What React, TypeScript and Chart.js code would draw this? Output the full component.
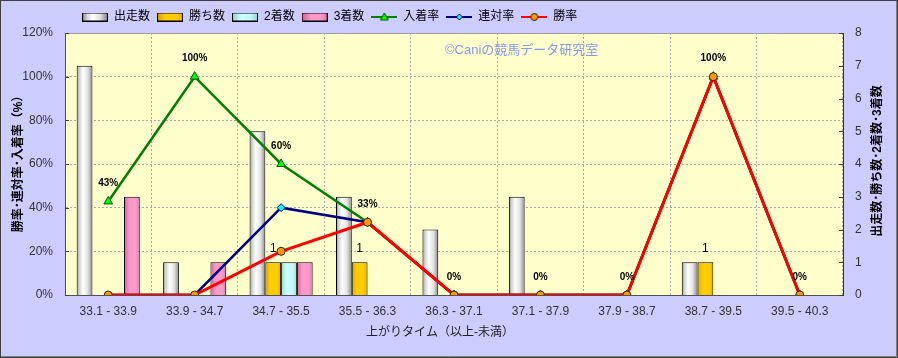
import React, { useEffect, useRef } from "react";
import { Chart, registerables } from "chart.js";

Chart.register(...registerables);

// ---- data ----
const categories = [
  "33.1 - 33.9",
  "33.9 - 34.7",
  "34.7 - 35.5",
  "35.5 - 36.3",
  "36.3 - 37.1",
  "37.1 - 37.9",
  "37.9 - 38.7",
  "38.7 - 39.5",
  "39.5 - 40.3",
];
const runs = [7, 1, 5, 3, 2, 3, 0, 1, 0];
const wins = [0, 0, 1, 1, 0, 0, 0, 1, 0];
const seconds = [0, 0, 1, 0, 0, 0, 0, 0, 0];
const thirds = [3, 1, 1, 0, 0, 0, 0, 0, 0];
const placeRate = [42.86, 100, 60, 33.33, 0, 0, 0, 100, 0];
const quinellaRate = [0, 0, 40, 33.33, 0, 0, 0, 100, 0];
const winRate = [0, 0, 20, 33.33, 0, 0, 0, 100, 0];

const seriesNames = ["出走数", "勝ち数", "2着数", "3着数", "入着率", "連対率", "勝率"];
const leftTitle = "勝率･連対率･入着率（%）";
const rightTitle = "出走数･勝ち数･2着数･3着数";
const xTitle = "上がりタイム（以上-未満）";
const watermark = "©Caniの競馬データ研究室";

const FONT = '"Liberation Sans", "Noto Sans CJK JP", sans-serif';

const barStops: [number, string][][] = [
  [[0, "#8a8a8a"], [0.15, "#cfcfcf"], [0.4, "#ffffff"], [0.7, "#e2e2e2"], [1, "#8a8a8a"]],
  [[0, "#d9a600"], [0.3, "#ffcc00"], [0.75, "#ffcc00"], [1, "#e0b000"]],
  [[0, "#99d6d6"], [0.35, "#ccffff"], [0.75, "#c4f7f7"], [1, "#99dada"]],
  [[0, "#cc6699"], [0.35, "#ff99cc"], [0.75, "#ff99cc"], [1, "#d87aa8"]],
];
const barFlat = ["#eeeeee", "#ffcc00", "#ccffff", "#ff99cc"];

const lineStyles = [
  { color: "#008000", mk: "triangle", fill: "#00ff00", stroke: "#005500" },
  { color: "#000080", mk: "diamond", fill: "#00ffff", stroke: "#000080" },
  { color: "#ff0000", mk: "circle", fill: "#ff9900", stroke: "#332200" },
];

function makeBarSymbol(i: number) {
  const c = document.createElement("canvas");
  c.width = 26;
  c.height = 9;
  const x = c.getContext("2d")!;
  const g = x.createLinearGradient(1, 0, 25, 0);
  barStops[i].forEach(([o, col]) => g.addColorStop(o, col));
  x.fillStyle = g;
  x.fillRect(1, 1, 24, 7);
  x.strokeStyle = "#000";
  x.lineWidth = 1;
  x.strokeRect(0.5, 0.5, 25, 8);
  return c;
}

function makeLineSymbol(i: number) {
  const s = lineStyles[i];
  const c = document.createElement("canvas");
  c.width = 26;
  c.height = 10;
  const x = c.getContext("2d")!;
  x.strokeStyle = s.color;
  x.lineWidth = 2;
  x.beginPath();
  x.moveTo(0, 5);
  x.lineTo(26, 5);
  x.stroke();
  x.fillStyle = s.fill;
  x.strokeStyle = s.stroke;
  x.lineWidth = 1;
  x.beginPath();
  if (s.mk === "triangle") {
    x.moveTo(13, 1);
    x.lineTo(17, 8);
    x.lineTo(9, 8);
    x.closePath();
  } else if (s.mk === "diamond") {
    x.moveTo(13, 2);
    x.lineTo(16, 5);
    x.lineTo(13, 8);
    x.lineTo(10, 5);
    x.closePath();
  } else {
    x.arc(13, 5, 3.5, 0, Math.PI * 2);
  }
  x.fill();
  x.stroke();
  return c;
}

const decorPlugin = {
  id: "decor",
  afterLayout(chart: any) {
    const lg = chart.legend;
    if (lg) {
      lg.left += 10;
      lg.right += 10;
    }
  },
  beforeDraw(chart: any) {
    const { ctx, width, height, chartArea: a } = chart;
    ctx.save();
    ctx.fillStyle = "#ccccff";
    ctx.fillRect(0, 0, width, height);
    ctx.strokeStyle = "#404040";
    ctx.lineWidth = 1;
    ctx.strokeRect(0.5, 0.5, width - 1, height - 1);
    ctx.beginPath();
    ctx.moveTo(width - 1.5, 1);
    ctx.lineTo(width - 1.5, height - 1.5);
    ctx.lineTo(1, height - 1.5);
    ctx.strokeStyle = "#808080";
    ctx.stroke();
    ctx.fillStyle = "#ffffcc";
    ctx.fillRect(a.left, a.top, a.right - a.left, a.bottom - a.top);
    ctx.restore();
  },
  beforeDatasetsDraw(chart: any) {
    const { ctx, chartArea: a } = chart;
    ctx.save();
    // top border of plot
    ctx.strokeStyle = "#a0a0a0";
    ctx.lineWidth = 1;
    ctx.beginPath();
    ctx.moveTo(a.left, a.top + 0.5);
    ctx.lineTo(a.right, a.top + 0.5);
    ctx.stroke();
    // inward tick marks
    ctx.strokeStyle = "#404040";
    const ys = chart.scales.y;
    ys.ticks.forEach((t: any) => {
      const py = Math.round(ys.getPixelForValue(t.value)) + 0.5;
      ctx.beginPath();
      ctx.moveTo(a.left, py);
      ctx.lineTo(a.left + 4, py);
      ctx.stroke();
    });
    const y1 = chart.scales.y1;
    y1.ticks.forEach((t: any) => {
      const py = Math.round(y1.getPixelForValue(t.value)) + 0.5;
      ctx.beginPath();
      ctx.moveTo(a.right - 4, py);
      ctx.lineTo(a.right, py);
      ctx.stroke();
    });
    // watermark
    ctx.font = "13px " + FONT;
    ctx.fillStyle = "#8898ee";
    ctx.textAlign = "left";
    ctx.textBaseline = "middle";
    ctx.fillText(watermark, 445, 50);
    ctx.restore();
    // bar gradients
    for (let di = 0; di < 4; di++) {
      const meta = chart.getDatasetMeta(di);
      meta.data.forEach((el: any) => {
        const w = el.width;
        if (!w || !isFinite(el.x)) return;
        const x0 = el.x - w / 2;
        const g = ctx.createLinearGradient(x0, 0, x0 + w, 0);
        barStops[di].forEach(([o, c]) => g.addColorStop(o, c));
        try {
          el.options.backgroundColor = g;
        } catch (e) {}
      });
    }
  },
  afterDatasetsDraw(chart: any) {
    const ctx = chart.ctx;
    ctx.save();
    ctx.fillStyle = "#000";
    ctx.textAlign = "center";
    ctx.textBaseline = "middle";
    ctx.font = "bold 10px " + FONT;
    const gm = chart.getDatasetMeta(4);
    gm.data.forEach((el: any, i: number) => {
      ctx.fillText(Math.round(placeRate[i]) + "%", el.x, el.y - 18);
    });
    ctx.font = "12px " + FONT;
    const wm = chart.getDatasetMeta(1);
    wm.data.forEach((el: any, i: number) => {
      if (wins[i] > 0) ctx.fillText(String(wins[i]), el.x, el.y - 14);
    });
    ctx.restore();
  },
  afterDraw(chart: any) {
    const { ctx, chartArea: a } = chart;
    const cy = (a.top + a.bottom) / 2;
    ctx.save();
    ctx.fillStyle = "#000";
    ctx.textAlign = "center";
    ctx.textBaseline = "middle";
    ctx.font = "bold 12px " + FONT;
    ctx.translate(19, cy - 3);
    ctx.rotate(-Math.PI / 2);
    ctx.fillText(leftTitle, 0, 0);
    ctx.restore();
    ctx.save();
    ctx.fillStyle = "#000";
    ctx.textAlign = "center";
    ctx.textBaseline = "middle";
    ctx.font = "bold 12px " + FONT;
    ctx.translate(878, cy - 3);
    ctx.rotate(-Math.PI / 2);
    ctx.fillText(rightTitle, 0, 0);
    ctx.restore();
    ctx.save();
    ctx.fillStyle = "#222";
    ctx.textAlign = "center";
    ctx.textBaseline = "middle";
    ctx.font = "12px " + FONT;
    ctx.fillText(xTitle, 440, 333);
    ctx.restore();
  },
};

export default function App() {
  const ref = useRef<HTMLCanvasElement | null>(null);

  useEffect(() => {
    document.body.style.margin = "0";
    const canvas = ref.current;
    if (!canvas) return;
    const symbols = [0, 1, 2, 3].map(makeBarSymbol).concat([0, 1, 2].map(makeLineSymbol));

    const barData = [runs, wins, seconds, thirds];
    const barDatasets = barData.map((d, i) => ({
      type: "bar" as const,
      label: seriesNames[i],
      data: d,
      yAxisID: "y1",
      backgroundColor: () => barFlat[i],
      borderColor: "#000000",
      borderWidth: 1,
      categoryPercentage: 0.73,
      barPercentage: 1.0,
      order: 10,
    }));
    const lineData = [placeRate, quinellaRate, winRate];
    const lineDatasets = lineData.map((d, i) => {
      const s = lineStyles[i];
      return {
        type: "line" as const,
        label: seriesNames[4 + i],
        data: d,
        yAxisID: "y",
        borderColor: s.color,
        borderWidth: i === 2 ? 3 : 2.5,
        tension: 0,
        fill: false,
        pointStyle: s.mk === "triangle" ? "triangle" : s.mk === "diamond" ? "rectRot" : "circle",
        pointRadius: s.mk === "triangle" ? 5 : 4,
        pointBackgroundColor: s.fill,
        pointBorderColor: s.stroke,
        pointBorderWidth: 1,
        order: 2 - i,
      };
    });

    const chart = new Chart(canvas, {
      type: "bar",
      data: {
        labels: categories,
        datasets: [...barDatasets, ...lineDatasets] as any,
      },
      options: {
        animation: false,
        responsive: false,
        devicePixelRatio: 1,
        layout: { padding: { top: 4, left: 0, right: 0, bottom: 0 } },
        plugins: {
          tooltip: { enabled: false },
          legend: {
            display: true,
            position: "top",
            align: "start",
            fullSize: false,
            onClick: () => {},
            labels: {
              usePointStyle: true,
              pointStyleWidth: 26,
              padding: 7,
              color: "#000",
              font: { size: 12, family: FONT },
              generateLabels: () =>
                seriesNames.map((n, i) => ({
                  text: n,
                  pointStyle: symbols[i],
                  fillStyle: "transparent",
                  strokeStyle: "transparent",
                  lineWidth: 0,
                  hidden: false,
                  datasetIndex: i,
                  fontColor: "#000",
                })) as any,
            },
          },
        },
        scales: {
          x: {
            type: "category",
            offset: true,
            grid: { offset: true, color: "#a8a8a8", lineWidth: 1, drawTicks: false },
            border: { display: true, color: "#505050", dash: [2, 2] },
            ticks: { color: "#333", padding: 9, font: { size: 12, family: FONT }, maxRotation: 0, autoSkip: false },
            afterFit: (s: any) => {
              s.height = 63;
            },
          },
          y: {
            type: "linear",
            position: "left",
            min: 0,
            max: 120,
            ticks: {
              stepSize: 20,
              color: "#333",
              padding: 12,
              font: { size: 12, family: FONT },
              callback: (v: any) => v + "%",
            },
            grid: { color: "#a8a8a8", lineWidth: 1, drawTicks: false },
            border: { display: true, color: "#505050", dash: [2, 2] },
            afterFit: (s: any) => {
              s.width = 65;
            },
          },
          y1: {
            type: "linear",
            position: "right",
            min: 0,
            max: 8,
            ticks: { stepSize: 1, color: "#333", padding: 12, font: { size: 12, family: FONT } },
            grid: { display: false, drawTicks: false },
            border: { display: true, color: "#303030" },
            afterFit: (s: any) => {
              s.width = 55;
            },
          },
        },
      },
      plugins: [decorPlugin],
    } as any);

    return () => chart.destroy();
  }, []);

  return <canvas ref={ref} width={898} height={358} style={{ display: "block" }} />;
}
